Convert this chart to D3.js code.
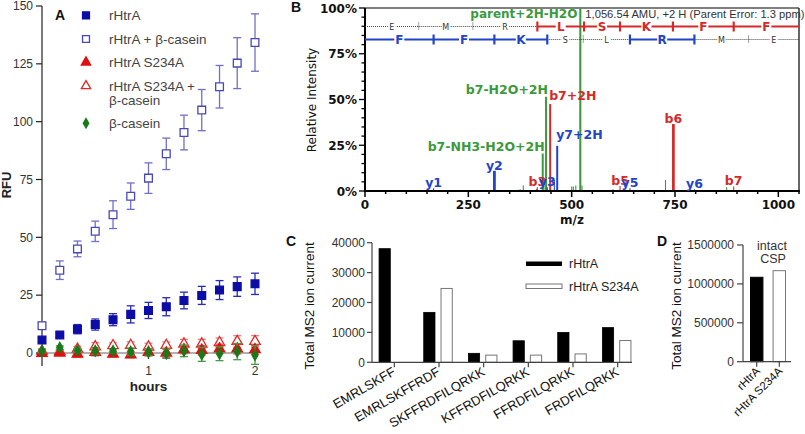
<!DOCTYPE html>
<html><head><meta charset="utf-8">
<script src="https://cdn.jsdelivr.net/npm/d3@7"></script>
<style>body{margin:0;background:#fff} svg{display:block}</style>
</head><body>
<svg id="c" width="805" height="434"></svg>
<script>
// ---------------- Panel A data ----------------
const hours = [0, 0.167, 0.333, 0.5, 0.667, 0.833, 1, 1.167, 1.333, 1.5, 1.667, 1.833, 2];
const hourTicks = [1, 2];
const rfuTicks = [0, 25, 50, 75, 100, 125, 150];
const rHtrA = [5.6, 7.8, 10.3, 12.3, 14.4, 16.7, 18.4, 20.0, 22.7, 24.9, 27.2, 28.7, 29.9];
const rHtrAErr = [1.0, 0.8, 2.0, 2.4, 2.6, 3.7, 3.5, 3.9, 3.6, 3.9, 4.1, 4.2, 4.6];
const rHtrACasein = [11.8, 35.8, 45.0, 52.6, 59.8, 67.8, 75.6, 86.1, 95.3, 105.0, 115.1, 125.3, 134.2];
const rHtrACaseinErr = [1.5, 4.0, 3.4, 4.4, 6.0, 5.7, 6.6, 6.8, 7.5, 8.9, 9.2, 11.0, 12.4];
const s234a = [-0.1, 0.0, -0.5, 0.3, -0.5, -0.8, 0.3, 0.0, 1.5, 1.2, 1.8, 1.8, 1.5];
const s234aErr = [0.8, 0.8, 1.2, 1.5, 1.0, 1.2, 1.5, 2.0, 1.8, 2.0, 2.0, 2.2, 2.0];
const s234aCasein = [0.8, 0.6, 1.7, 2.7, 3.2, 3.3, 2.6, 3.3, 3.9, 3.9, 4.5, 5.0, 5.0];
const s234aCaseinErr = [0.8, 0.8, 1.2, 1.8, 1.2, 1.5, 1.6, 1.5, 2.0, 2.0, 2.0, 2.5, 2.5];
const casein = [0.9, 2.3, 1.1, 0.9, 0.9, 0.6, 0.3, -0.3, 0.9, -0.6, -0.3, 0.6, -0.9];
const caseinErr = [0.8, 0.8, 0.8, 1.5, 0.8, 1.5, 1.5, 2.0, 2.5, 3.0, 3.0, 3.5, 4.0];
const legendA = ["rHtrA", "rHtrA + β-casein", "rHtrA S234A", "rHtrA S234A +|β-casein", "β-casein"];

// ---------------- Panel B data ----------------
const mzTicks = [0, 250, 500, 750, 1000];
const intTicks = [0, 25, 50, 75, 100];
const bPeakMz = [415, 417, 448, 617, 746, 892];
const bPeakInt = [1.0, 2.0, 47.5, 2.7, 36.6, 2.5];
const yPeakMz = [166, 313, 441, 458, 465, 641, 797];
const yPeakInt = [1.5, 11.0, 2.0, 6.0, 24.7, 1.5, 1.0];
const nPeakMz = [375, 383, 430, 433, 438, 500, 504, 510, 521, 525, 600, 727, 875];
const nPeakInt = [1.0, 3.0, 20.5, 3.0, 51.5, 2.5, 2.5, 3.0, 100, 3.0, 1.0, 6.0, 2.0];
const ionLabels = ["y1", "y2", "b3", "y3", "b7-NH3-H2O+2H", "b7-H2O+2H", "b7+2H", "y7+2H", "b5", "y5", "b6", "y6", "b7"];
const ionLabelMz = [166, 313, 417, 441, 430, 438, 448, 465, 617, 641, 746, 797, 892];
const ionLabelInt = [1.5, 11.0, 2.0, 2.0, 20.5, 51.5, 47.5, 24.7, 2.7, 1.5, 36.6, 1.0, 2.5];
const ionLabelType = ["y", "y", "b", "y", "n", "n", "b", "y", "b", "y", "b", "y", "b"];
const bLadder = [0, 130, 261, 417, 530, 617, 745, 892, 1050];
const bResidues = ["E", "M", "R", "L", "S", "K", "F", "F"];
const bSeen = [false, false, false, true, true, true, true, true];
const yLadder = [0, 166, 313, 441, 528, 641, 797, 928, 1050];
const yResidues = ["F", "F", "K", "S", "L", "R", "M", "E"];
const ySeen = [true, true, true, false, false, true, false, false];
const parentMz = 521;
const parentLabel = "parent+2H-H2O";
const parentInfo = "1,056.54 AMU, +2 H (Parent Error: 1.3 ppm)";

// ---------------- Panel C data ----------------
const peptides = ["EMRLSKFF", "EMRLSKFFRDF", "SKFFRDFILQRKK", "KFFRDFILQRKK", "FFRDFILQRKK", "FRDFILQRKK"];
const peptideWT = [38000, 16700, 3000, 7200, 10000, 11600];
const peptideMut = [0, 24700, 2400, 2400, 2800, 7300];
const ionTicksC = [0, 10000, 20000, 30000, 40000];
const seriesC = ["rHtrA", "rHtrA S234A"];

// ---------------- Panel D data ----------------
const proteins = ["rHtrA", "rHtrA S234A"];
const intactCSP = [1085000, 1170000];
const ionTicksD = [0, 500000, 1000000, 1500000];

const svg = d3.select("#c");
const HV = "'Liberation Sans', Arial, sans-serif";
const LG = "'DejaVu Sans', sans-serif";

// ======================= Panel A =======================
{
  const g = svg.append("g");
  const x = d3.scaleLinear().domain([0, 2]).range([42, 255]);
  const y = d3.scaleLinear().domain([0, 150]).range([353, 6]);
  g.append("line").attr("x1", 42).attr("x2", 42).attr("y1", y(150)).attr("y2", 366).attr("stroke", "#222").attr("stroke-width", 1.2);
  rfuTicks.forEach(t => {
    g.append("line").attr("x1", 36).attr("x2", 42).attr("y1", y(t)).attr("y2", y(t)).attr("stroke", "#222").attr("stroke-width", 1.2);
    g.append("text").attr("x", 33).attr("y", y(t) + 4.3).attr("text-anchor", "end")
      .attr("font-family", HV).attr("font-size", 12).attr("fill", "#333").text(t);
  });
  g.append("line").attr("x1", x(0)).attr("x2", x(2)).attr("y1", y(0)).attr("y2", y(0)).attr("stroke", "#666").attr("stroke-width", 1.2);
  hourTicks.forEach(t => {
    g.append("line").attr("x1", x(t)).attr("x2", x(t)).attr("y1", y(0) - 3).attr("y2", y(0) + 6).attr("stroke", "#222").attr("stroke-width", 1.2);
    g.append("text").attr("x", x(t)).attr("y", 374.5).attr("text-anchor", "middle")
      .attr("font-family", HV).attr("font-size", 12).attr("fill", "#333").text(t);
  });
  g.append("text").attr("x", x(1)).attr("y", 391).attr("text-anchor", "middle")
    .attr("font-family", HV).attr("font-size", 13.5).attr("font-weight", "bold").attr("fill", "#222").text("hours");
  g.append("text").attr("transform", "translate(11,185) rotate(-90)").attr("text-anchor", "middle")
    .attr("font-family", HV).attr("font-size", 13).attr("font-weight", "bold").attr("fill", "#222").text("RFU");
  g.append("text").attr("x", 55).attr("y", 20).attr("font-family", HV).attr("font-size", 14)
    .attr("font-weight", "bold").attr("fill", "#111").text("A");

  const series = [
    {v: rHtrACasein, e: rHtrACaseinErr, type: d3.symbolSquare, size: 60, fill: "#fff", stroke: "#4848b8", ec: "#7070c8"},
    {v: rHtrA, e: rHtrAErr, type: d3.symbolSquare, size: 60, fill: "#0c0ca6", stroke: "#0c0ca6", ec: "#2a2ab8"},
    {v: s234aCasein, e: s234aCaseinErr, type: d3.symbolTriangle, size: 48, fill: "#fff", stroke: "#e42828", ec: "#f08080"},
    {v: s234a, e: s234aErr, type: d3.symbolTriangle, size: 48, fill: "#e01010", stroke: "#e01010", ec: "#e85050"},
    {v: casein, e: caseinErr, type: d3.symbolDiamond, size: 32, fill: "#1a7a1a", stroke: "#1a7a1a", ec: "#4a9a4a"}
  ];
  series.forEach(s => {
    const sg = g.append("g");
    hours.forEach((h, i) => {
      const cx = x(h), lo = y(s.v[i] - s.e[i]), hi = y(s.v[i] + s.e[i]);
      sg.append("line").attr("x1", cx).attr("x2", cx).attr("y1", lo).attr("y2", hi).attr("stroke", s.ec).attr("stroke-width", 1.3);
      [lo, hi].forEach(yy => sg.append("line").attr("x1", cx - 4).attr("x2", cx + 4).attr("y1", yy).attr("y2", yy).attr("stroke", s.ec).attr("stroke-width", 1.3));
    });
    sg.selectAll("path").data(s.v).join("path")
      .attr("d", d3.symbol().type(s.type).size(s.size))
      .attr("transform", (d, i) => `translate(${x(hours[i])},${y(d)})`)
      .attr("fill", s.fill).attr("stroke", s.stroke).attr("stroke-width", 1.3);
  });
  const ly = [15.3, 39, 62.3, 86, 123.3];
  const lorder = [1, 0, 3, 2, 4];
  legendA.forEach((lab, i) => {
    const s = series[lorder[i]];
    g.append("path").attr("d", d3.symbol().type(s.type).size(s.size * 0.8)).attr("transform", `translate(86,${ly[i]})`)
      .attr("fill", s.fill).attr("stroke", s.stroke).attr("stroke-width", 1.3);
    lab.split("|").forEach((line, j) => {
      g.append("text").attr("x", 109).attr("y", ly[i] + 5 + j * 14).attr("font-family", HV).attr("font-size", 13.5)
        .attr("fill", "#444").text(line);
    });
  });
}

// ======================= Panel B =======================
{
  const g = svg.append("g");
  const x = d3.scaleLinear().domain([0, 1050]).range([365, 799]);
  const y = d3.scaleLinear().domain([0, 100]).range([191, 8]);
  const colors = {b: "#d42a2a", y: "#2244c8", n: "#3c9a3c"};
  g.append("line").attr("x1", 365).attr("x2", 799).attr("y1", 8).attr("y2", 8).attr("stroke", "#000").attr("stroke-width", 1.2);
  g.append("line").attr("x1", 799).attr("x2", 799).attr("y1", 8).attr("y2", 191).attr("stroke", "#000").attr("stroke-width", 1.2);
  g.append("line").attr("x1", x(parentMz)).attr("x2", x(parentMz)).attr("y1", 8).attr("y2", 191).attr("stroke", colors.n).attr("stroke-width", 1.2);
  const drawPeaks = (mz, it, c) => mz.forEach((m, i) => {
    const w = it[i] > 8 ? 2 : 1.1;
    g.append("line").attr("x1", x(m)).attr("x2", x(m)).attr("y1", y(0)).attr("y2", y(it[i])).attr("stroke", c).attr("stroke-width", w);
  });
  drawPeaks(nPeakMz, nPeakInt, colors.n);
  drawPeaks(yPeakMz, yPeakInt, colors.y);
  drawPeaks(bPeakMz, bPeakInt, colors.b);
  [[313, 11.0, colors.y], [746, 36.6, colors.b]].forEach(p =>
    g.append("line").attr("x1", x(p[0])).attr("x2", x(p[0])).attr("y1", y(0)).attr("y2", y(p[1])).attr("stroke", p[2]).attr("stroke-width", 2.6));
  g.append("line").attr("x1", 365).attr("x2", 365).attr("y1", 8).attr("y2", 192).attr("stroke", "#000").attr("stroke-width", 2);
  g.append("line").attr("x1", 364).attr("x2", 800).attr("y1", 191).attr("y2", 191).attr("stroke", "#000").attr("stroke-width", 2);
  d3.range(0, 101, 5).forEach(p => {
    const major = p % 25 === 0;
    g.append("line").attr("x1", major ? 359 : 361.5).attr("x2", 365).attr("y1", y(p)).attr("y2", y(p)).attr("stroke", "#000").attr("stroke-width", 1.3);
  });
  d3.range(0, 1051, 50).forEach(m => {
    const major = m % 250 === 0;
    g.append("line").attr("x1", x(m)).attr("x2", x(m)).attr("y1", 191).attr("y2", major ? 197 : 194).attr("stroke", "#000").attr("stroke-width", 1.5);
  });
  intTicks.forEach(p => g.append("text").attr("x", 357).attr("y", y(p) + 4.5).attr("text-anchor", "end")
    .attr("font-family", LG).attr("font-size", 12).attr("font-weight", "bold").attr("fill", "#111").text(p + "%"));
  mzTicks.forEach(m => g.append("text").attr("x", x(m)).attr("y", 209).attr("text-anchor", "middle")
    .attr("font-family", LG).attr("font-size", 12).attr("font-weight", "bold").attr("fill", "#111").text(m));
  g.append("text").attr("x", 572).attr("y", 224).attr("text-anchor", "middle").attr("font-family", LG)
    .attr("font-size", 12).attr("font-weight", "bold").attr("fill", "#111").text("m/z");
  g.append("text").attr("transform", "translate(316,100) rotate(-90)").attr("text-anchor", "middle")
    .attr("font-family", LG).attr("font-size", 12).attr("fill", "#111").text("Relative Intensity");
  g.append("text").attr("x", 291).attr("y", 12).attr("font-family", HV).attr("font-size", 14)
    .attr("font-weight", "bold").attr("fill", "#111").text("B");
  g.append("text").attr("x", x(parentMz) - 3).attr("y", 18).attr("text-anchor", "end").attr("font-family", LG)
    .attr("font-size", 12).attr("font-weight", "bold").attr("fill", colors.n).text(parentLabel);
  g.append("text").attr("x", x(parentMz) + 5).attr("y", 18).attr("font-family", HV)
    .attr("font-size", 11.2).attr("fill", "#333").text(parentInfo);
  const drawLadder = (bounds, res, seen, yy, c) => {
    res.forEach((r, i) => {
      const x0 = x(bounds[i]), x1 = x(bounds[i + 1]), xm = (x0 + x1) / 2;
      if (seen[i]) {
        g.append("line").attr("x1", x0).attr("x2", x1).attr("y1", yy).attr("y2", yy).attr("stroke", c).attr("stroke-width", 2.2);
        g.append("rect").attr("x", xm - 5).attr("y", yy - 5).attr("width", 10).attr("height", 10).attr("fill", "#fff");
        g.append("text").attr("x", xm).attr("y", yy + 4.5).attr("text-anchor", "middle").attr("font-family", LG)
          .attr("font-size", 12).attr("font-weight", "bold").attr("fill", c).text(r);
      } else {
        g.append("line").attr("x1", x0).attr("x2", x1).attr("y1", yy).attr("y2", yy).attr("stroke", "#333")
          .attr("stroke-width", 0.9).attr("stroke-dasharray", "1,1");
        g.append("rect").attr("x", xm - 4).attr("y", yy - 4).attr("width", 8).attr("height", 8).attr("fill", "#fff");
        g.append("text").attr("x", xm).attr("y", yy + 3.2).attr("text-anchor", "middle").attr("font-family", LG)
          .attr("font-size", 8).attr("fill", "#333").text(r);
      }
    });
    bounds.slice(1, -1).forEach((b, k) => {
      const solid = seen[k] || seen[k + 1];
      if (solid) g.append("line").attr("x1", x(b)).attr("x2", x(b)).attr("y1", yy - 5).attr("y2", yy + 5).attr("stroke", c).attr("stroke-width", 2.2);
      else g.append("line").attr("x1", x(b)).attr("x2", x(b)).attr("y1", yy - 4).attr("y2", yy + 4).attr("stroke", "#333").attr("stroke-width", 0.9).attr("stroke-dasharray", "1,1");
    });
  };
  drawLadder(bLadder, bResidues, bSeen, 26.5, colors.b);
  drawLadder(yLadder, yResidues, ySeen, 39.5, colors.y);
  const place = {"b7-NH3-H2O+2H": ["end", 2, -2], "b7-H2O+2H": ["end", 2, -3], "b7+2H": ["start", -1, -4], "y7+2H": ["start", -1, -7]};
  ionLabels.forEach((lab, i) => {
    const p = place[lab] || ["middle", 0, -1];
    g.append("text").attr("x", x(ionLabelMz[i]) + p[1]).attr("y", y(ionLabelInt[i]) + p[2]).attr("text-anchor", p[0])
      .attr("font-family", LG).attr("font-size", 12.5).attr("font-weight", "bold").attr("fill", colors[ionLabelType[i]]).text(lab);
  });
}

// ======================= Panel C =======================
{
  const g = svg.append("g");
  const x = d3.scaleBand().domain(peptides).range([372, 640]);
  const xs = d3.scaleBand().domain(seriesC).range([-17, 15]).paddingInner(0.35).paddingOuter(0.1);
  const y = d3.scaleLinear().domain([0, 40000]).range([362.3, 242.7]);
  const cx = p => x(p) + x.bandwidth() / 2;
  peptides.forEach((p, i) => {
    g.append("rect").attr("x", cx(p) + xs("rHtrA")).attr("width", xs.bandwidth()).attr("y", y(peptideWT[i]))
      .attr("height", y(0) - y(peptideWT[i])).attr("fill", "#000").attr("stroke", "#000").attr("stroke-width", 0.8);
    if (peptideMut[i] > 0)
      g.append("rect").attr("x", cx(p) + xs("rHtrA S234A")).attr("width", xs.bandwidth()).attr("y", y(peptideMut[i]))
        .attr("height", y(0) - y(peptideMut[i])).attr("fill", "#fff").attr("stroke", "#777").attr("stroke-width", 1);
  });
  g.append("line").attr("x1", 372).attr("x2", 372).attr("y1", y(40000)).attr("y2", y(0)).attr("stroke", "#444").attr("stroke-width", 1.2);
  g.append("line").attr("x1", 372).attr("x2", 632).attr("y1", y(0)).attr("y2", y(0)).attr("stroke", "#444").attr("stroke-width", 1.2);
  ionTicksC.forEach(t => {
    g.append("line").attr("x1", 367).attr("x2", 372).attr("y1", y(t)).attr("y2", y(t)).attr("stroke", "#444").attr("stroke-width", 1.2);
    g.append("text").attr("x", 365).attr("y", y(t) + 4.3).attr("text-anchor", "end").attr("font-family", HV)
      .attr("font-size", 12).attr("fill", "#333").text(t);
  });
  peptides.forEach(p => {
    g.append("line").attr("x1", cx(p)).attr("x2", cx(p)).attr("y1", y(0)).attr("y2", y(0) + 5).attr("stroke", "#444").attr("stroke-width", 1.2);
    g.append("text").attr("transform", `translate(${cx(p) + 2},${y(0) + 12}) rotate(-30)`).attr("text-anchor", "end")
      .attr("font-family", HV).attr("font-size", 13).attr("fill", "#111").text(p);
  });
  g.append("text").attr("transform", "translate(314,306) rotate(-90)").attr("text-anchor", "middle")
    .attr("font-family", HV).attr("font-size", 13.5).attr("fill", "#111").text("Total MS2 ion current");
  g.append("text").attr("x", 286).attr("y", 246).attr("font-family", HV).attr("font-size", 14)
    .attr("font-weight", "bold").attr("fill", "#111").text("C");
  g.append("rect").attr("x", 526).attr("y", 261.5).attr("width", 36).attr("height", 4.5).attr("fill", "#000");
  g.append("rect").attr("x", 526).attr("y", 284).attr("width", 36).attr("height", 4.5).attr("fill", "#fff").attr("stroke", "#777");
  seriesC.forEach((s, i) => g.append("text").attr("x", 569).attr("y", 267.5 + i * 23).attr("font-family", HV)
    .attr("font-size", 12.5).attr("fill", "#222").text(s));
}

// ======================= Panel D =======================
{
  const g = svg.append("g");
  const x = d3.scaleBand().domain(proteins).range([746, 790]).paddingInner(0.45).paddingOuter(0.2);
  const y = d3.scaleLinear().domain([0, 1500000]).range([361.7, 245]);
  proteins.forEach((p, i) => {
    g.append("rect").attr("x", x(p)).attr("width", x.bandwidth()).attr("y", y(intactCSP[i])).attr("height", y(0) - y(intactCSP[i]))
      .attr("fill", i === 0 ? "#000" : "#fff").attr("stroke", i === 0 ? "#000" : "#777").attr("stroke-width", 1);
  });
  g.append("line").attr("x1", 743).attr("x2", 743).attr("y1", y(1500000)).attr("y2", y(0)).attr("stroke", "#444").attr("stroke-width", 1.2);
  g.append("line").attr("x1", 743).attr("x2", 791).attr("y1", y(0)).attr("y2", y(0)).attr("stroke", "#444").attr("stroke-width", 1.2);
  ionTicksD.forEach(t => {
    g.append("line").attr("x1", 737).attr("x2", 743).attr("y1", y(t)).attr("y2", y(t)).attr("stroke", "#444").attr("stroke-width", 1.2);
    g.append("text").attr("x", 734).attr("y", y(t) + 4.3).attr("text-anchor", "end").attr("font-family", HV)
      .attr("font-size", 12).attr("fill", "#333").text(t);
  });
  proteins.forEach(p => {
    const c = x(p) + x.bandwidth() / 2;
    g.append("line").attr("x1", c).attr("x2", c).attr("y1", y(0)).attr("y2", y(0) + 5).attr("stroke", "#444").attr("stroke-width", 1.2);
    g.append("text").attr("transform", `translate(${c + 4},${y(0) + 10}) rotate(-45)`).attr("text-anchor", "end")
      .attr("font-family", HV).attr("font-size", 11.5).attr("fill", "#111").text(p);
  });
  g.append("text").attr("x", 772).attr("y", 250).attr("text-anchor", "middle").attr("font-family", HV)
    .attr("font-size", 12.5).attr("fill", "#333").text("intact");
  g.append("text").attr("x", 773).attr("y", 263).attr("text-anchor", "middle").attr("font-family", HV)
    .attr("font-size", 12.5).attr("fill", "#333").text("CSP");
  g.append("text").attr("transform", "translate(681,306) rotate(-90)").attr("text-anchor", "middle")
    .attr("font-family", HV).attr("font-size", 13.5).attr("fill", "#111").text("Total MS2 ion current");
  g.append("text").attr("x", 657).attr("y", 246).attr("font-family", HV).attr("font-size", 14)
    .attr("font-weight", "bold").attr("fill", "#111").text("D");
}
</script>
</body></html>
